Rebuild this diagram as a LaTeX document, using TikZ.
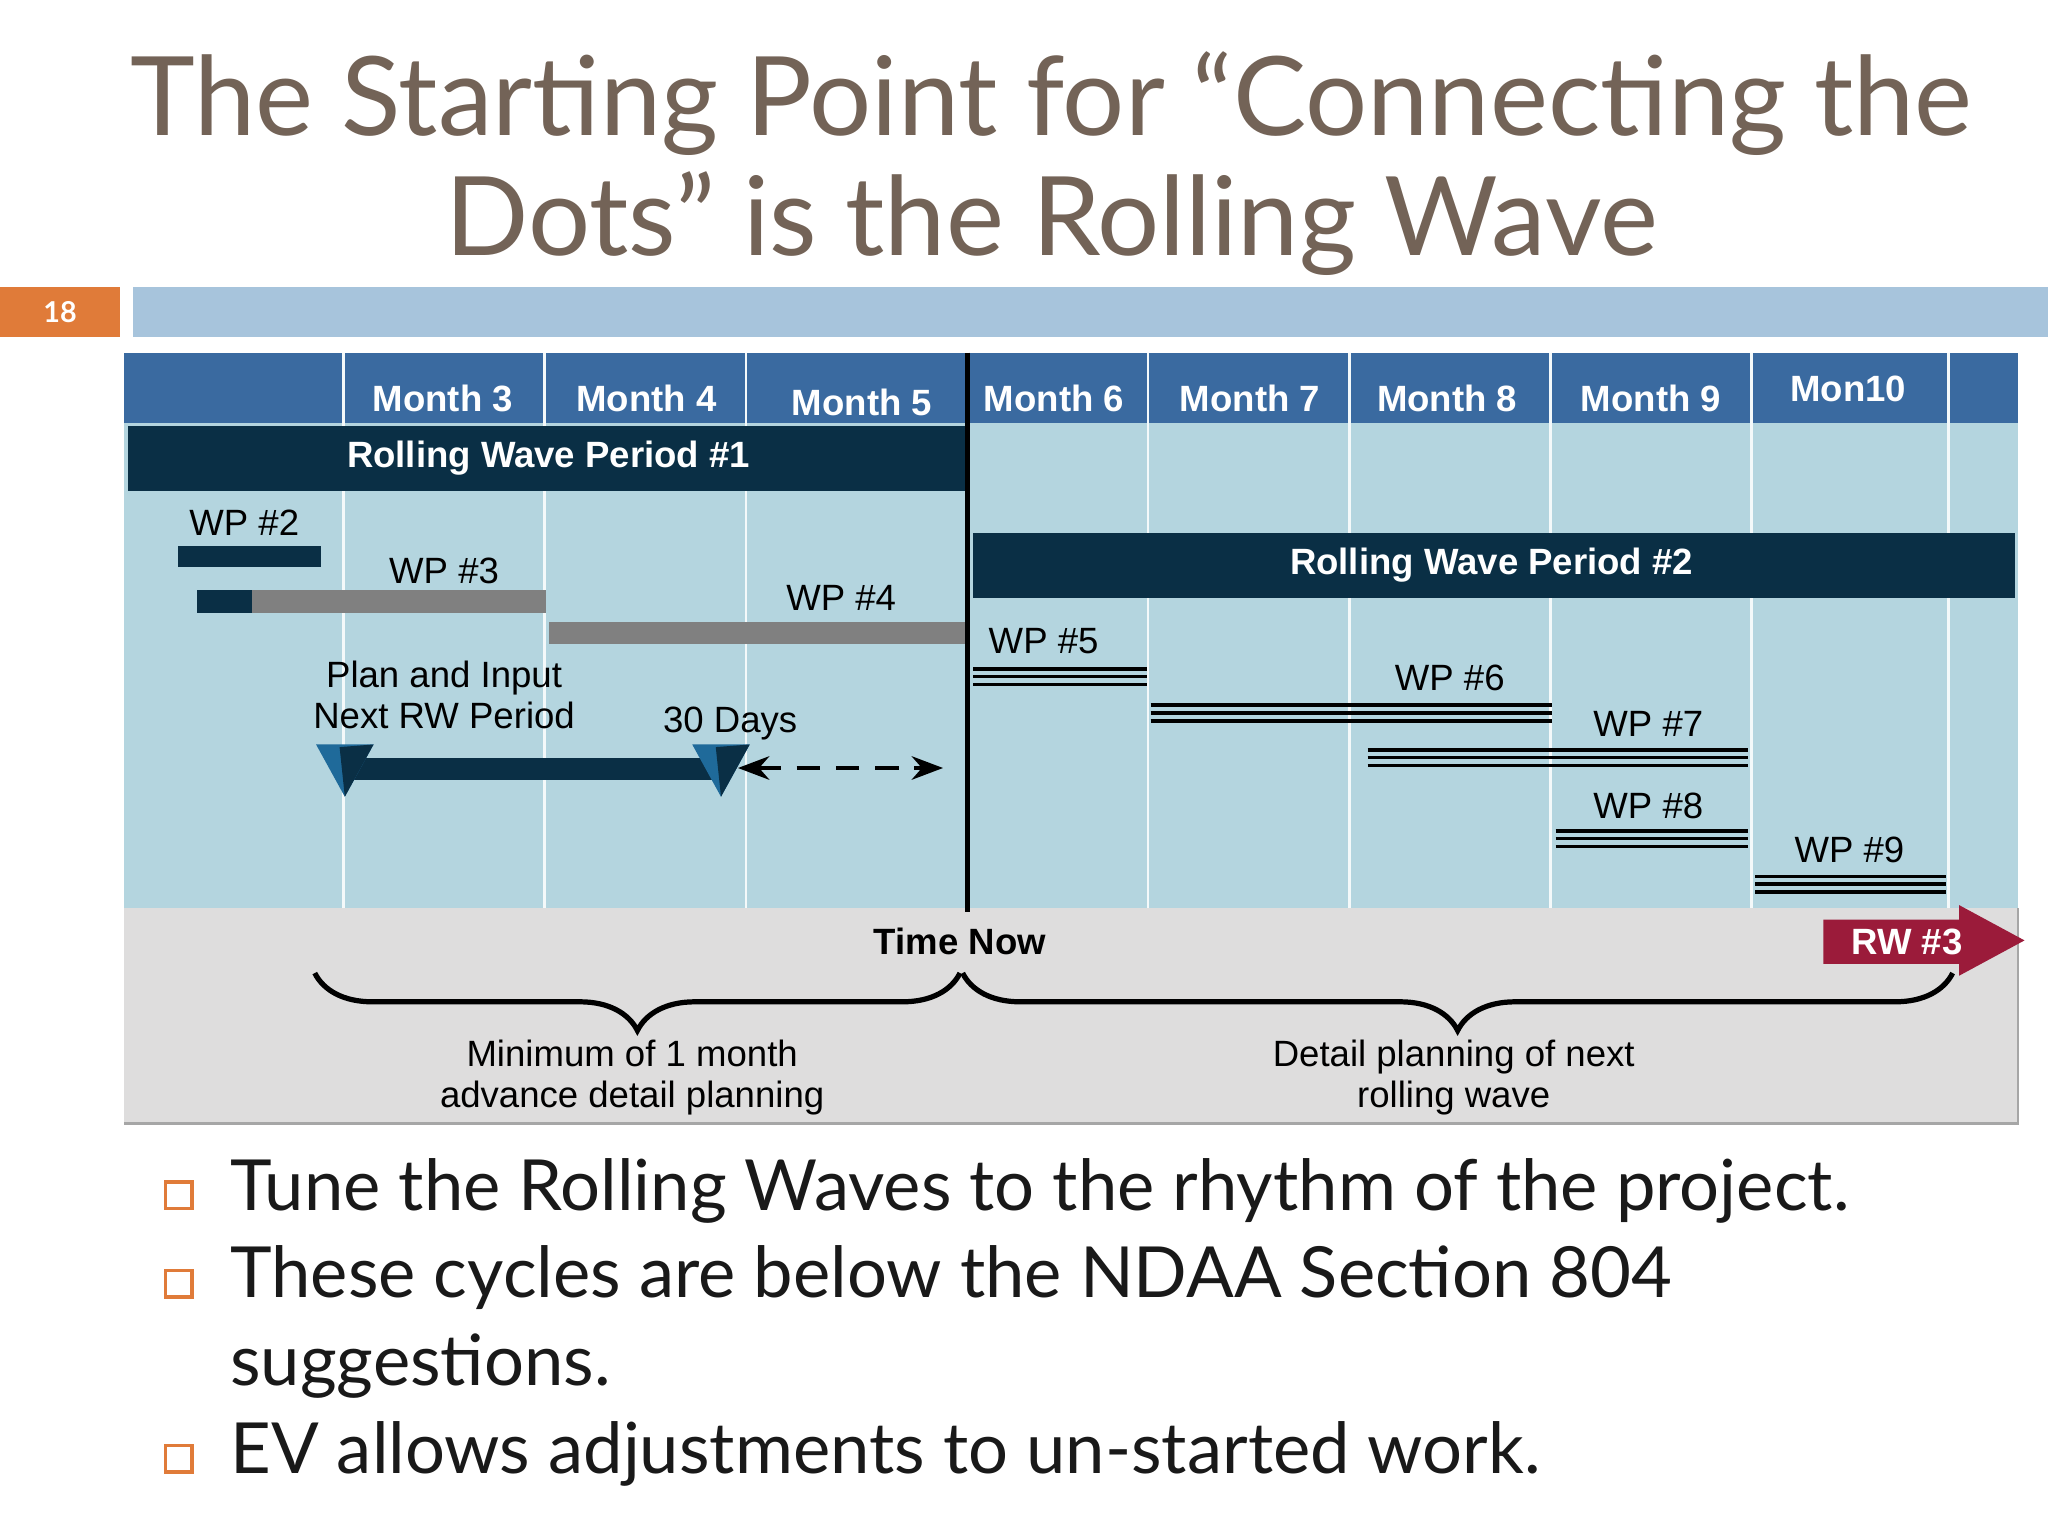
\documentclass[tikz,border=0pt]{standalone}
\usepackage{fontspec}
\setmainfont{Lato}
\newfontfamily\arial{Liberation Sans}
\usetikzlibrary{arrows.meta,decorations.pathreplacing}
\definecolor{ttl}{HTML}{736357}
\definecolor{hdr}{HTML}{3A6AA0}
\definecolor{body}{HTML}{B4D5DF}
\definecolor{navy}{HTML}{0A2F45}
\definecolor{gbar}{HTML}{808080}
\definecolor{graybg}{HTML}{DEDDDD}
\definecolor{orng}{HTML}{E07B39}
\definecolor{lblue}{HTML}{A7C4DC}
\definecolor{rwred}{HTML}{9B1B3A}
\definecolor{tri}{HTML}{1F6A9A}
\begin{document}
\begin{tikzpicture}[x=0.5pt,y=-0.5pt,
  lab/.style={font=\arial\fontsize{14}{16}\selectfont,inner sep=0pt},
  mon/.style={font=\arial\bfseries\fontsize{14}{16}\selectfont,text=white,inner sep=0pt},
  bul/.style={anchor=west,font=\fontsize{27}{32}\selectfont,text=black!90,inner sep=0pt},
  box/.style={draw=orng,line width=1.2pt,minimum size=10pt,inner sep=0pt}]
\useasboundingbox (0,0) rectangle (1568,1176);
\fill[white] (0,0) rectangle (1568,1176);
\node[text=ttl,font=\fontsize{42}{46}\selectfont,align=center] (title) at (805,125) {The Starting Point for “Connecting the\\Dots” is the Rolling Wave};
\fill[orng] (0,220) rectangle (92,258);
\node[text=white,font=\bfseries\fontsize{11}{12}\selectfont] (num) at (46,239) {18};
\fill[lblue] (102,220) rectangle (1568,258);
% chart
\fill[graybg] (95,695) rectangle (1545,860);
\draw[gray!70,line width=1pt] (95,860) -- (1545,860) -- (1545,695);
\fill[body] (95,324) rectangle (1545,695);
\fill[hdr] (95,270) rectangle (1545,324);
\foreach \x in {263,417,571,879,1033,1187,1341,1492}{
  \draw[white!85!body,line width=1pt] (\x,270) -- (\x,695);}
\foreach \t/\x in {Month 3/339,Month 4/495,Month 5/660,Month 6/807,Month 7/957,Month 8/1108,Month 9/1264,Mon10/1415}
  \node[mon] at (\x,\ifnum\x=660 308\else\ifnum\x=1415 298\else 305\fi\fi) {\t};
\fill[navy] (98,326) rectangle (741,376);
\node[mon] (rw1) at (420,351) {Rolling Wave Period \#1};
\fill[navy] (745,408) rectangle (1543,458);
\node[mon] (rw2) at (1142,433) {Rolling Wave Period \#2};
% WPs
\fill[navy] (136,418) rectangle (246,434);
\node[lab] (wp2) at (187,400) {WP \#2};
\fill[gbar] (193,452) rectangle (418,469);
\fill[navy] (151,452) rectangle (193,469);
\node[lab] (wp3) at (340,437) {WP \#3};
\fill[gbar] (420,476) rectangle (741,493);
\node[lab] (wp4) at (644,458) {WP \#4};
\node[lab,align=center] (plan) at (340,532) {Plan and Input\\Next RW Period};
\node[lab] (d30) at (559,554) {30 Days};
\fill[navy] (264,580) rectangle (552,597);
\foreach \x in {264,552}{
  \fill[tri] (\x-22,570) -- (\x+22,570) -- (\x,610) -- cycle;
  \fill[navy] (\x-4,572) -- (\x+22,570) -- (\x,610) -- cycle;}
\coordinate (da) at (565,588); \coordinate (db) at (722,588);
\draw[line width=1.5pt,dash pattern=on 9pt off 6pt,{Stealth[length=12pt,width=9pt]}-{Stealth[length=12pt,width=9pt]}] (da) -- (db);
\draw[line width=2pt] (741,270) -- (741,698);
\node[mon,text=black] (tn) at (735,721) {Time Now};
\foreach \xa/\xb/\y in {745/878/518,881/1188/546,1047/1338/580,1191/1338/642,1344/1490/677}{
  \foreach \d in {-6,0,6} \draw[line width=1.4pt] (\xa,\y+\d) -- (\xb,\y+\d);}
\node[lab] (wp5) at (799,491) {WP \#5};
\node[lab] (wp6) at (1110,519) {WP \#6};
\node[lab] (wp7) at (1262,554) {WP \#7};
\node[lab] (wp8) at (1262,617) {WP \#8};
\node[lab] (wp9) at (1416,651) {WP \#9};
\fill[rwred] (1396,704) rectangle (1500,738) (1500,693) -- (1550,720) -- (1500,747) -- cycle;
\node[mon] (rw3) at (1460,721) {RW \#3};
\draw[line width=2pt,decorate,decoration={brace,mirror,amplitude=22pt}] (241,745) -- (735,745);
\draw[line width=2pt,decorate,decoration={brace,mirror,amplitude=22pt}] (737,745) -- (1495,745);
\node[lab,align=center] (m1) at (484,825) {Minimum of 1 month\\advance detail planning};
\node[lab,align=center] (m2) at (1113,825) {Detail planning of next\\rolling wave};
% bullets
\foreach \y in {915,983,1117} \node[box] at (137,\y) {};
\node[bul] (b1) at (176,912) {Tune the Rolling Waves to the rhythm of the project.};
\node[bul] (b2) at (176,978) {These cycles are below the NDAA Section 804};
\node[bul] (b3) at (176,1046) {suggestions.};
\node[bul] (b4) at (176,1113) {EV allows adjustments to un-started work.};
\end{tikzpicture}
\end{document}
